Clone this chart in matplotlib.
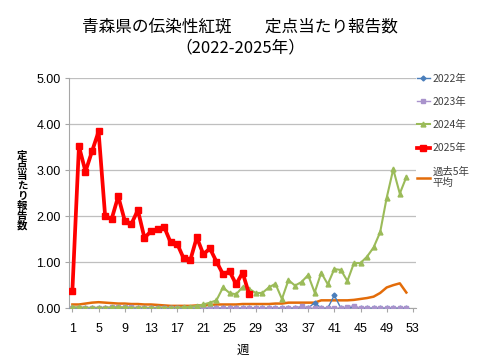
import matplotlib
matplotlib.use("Agg")
import matplotlib.pyplot as plt
import numpy as np

plt.rcParams['font.family'] = ['Noto Sans CJK JP', 'DejaVu Sans']

weeks = list(range(1, 53))

y2022 = [0]*35 + [0.03, 0, 0.12, 0, 0, 0.28, 0, 0, 0.03, 0, 0, 0, 0, 0, 0, 0, 0]
y2023 = [0.01, 0.01, 0.0, 0.0, 0.01, 0.01, 0.02, 0.02, 0.02, 0.02, 0.01, 0.01, 0.0, 0.0, 0.0, 0.0,
         0.0, 0.0, 0.0, 0.0, 0.0, 0.0, 0.0, 0.0, 0.0, 0.0, 0.0, 0.0, 0.0, 0.0, 0.0, 0.0,
         0.0, 0.0, 0.0, 0.04, 0.0, 0.0, 0.0, 0.0, 0.0, 0.0, 0.03, 0.05, 0.0, 0.0, 0.0, 0.0,
         0.0, 0.0, 0.0, 0.0]
y2024 = [0.02, 0.02, 0.01, 0.01, 0.01, 0.01, 0.02, 0.02, 0.02, 0.01, 0.01, 0.01, 0.01, 0.01,
         0.01, 0.01, 0.01, 0.02, 0.03, 0.05, 0.08, 0.12, 0.17, 0.45, 0.33, 0.30, 0.46, 0.42,
         0.33, 0.33, 0.45, 0.53, 0.20, 0.61, 0.49, 0.57, 0.72, 0.34, 0.77, 0.52, 0.85, 0.83,
         0.59, 0.98, 0.98, 1.12, 1.32, 1.65, 2.40, 3.02, 2.49, 2.85]
y2025 = [0.38, 3.52, 2.97, 3.41, 3.84, 2.00, 1.94, 2.43, 1.90, 1.83, 2.13, 1.53, 1.67, 1.71,
         1.77, 1.43, 1.40, 1.08, 1.04, 1.54, 1.17, 1.30, 1.01, 0.74, 0.80, 0.52, 0.77, 0.30]
avg5 = [0.08, 0.08, 0.10, 0.12, 0.13, 0.12, 0.11, 0.10, 0.10, 0.09, 0.09, 0.08, 0.08, 0.07,
        0.06, 0.05, 0.05, 0.05, 0.05, 0.06, 0.06, 0.07, 0.08, 0.08, 0.08, 0.08, 0.09, 0.09,
        0.09, 0.09, 0.09, 0.10, 0.10, 0.12, 0.12, 0.12, 0.12, 0.12, 0.17, 0.17, 0.17, 0.17,
        0.17, 0.18, 0.20, 0.22, 0.25, 0.33, 0.45, 0.50, 0.54, 0.34]

xticks = list(range(1, 54, 4))
yticks = [0, 1, 2, 3, 4, 5]

fig = plt.figure(figsize=(4.8, 3.6), dpi=100)
ax = fig.add_axes([0.144, 0.144, 0.723, 0.639])

ax.plot(weeks[:len(avg5)], avg5, color='#E36C09', lw=1.8, label='過去5年\n平均', zorder=2)
ax.plot(weeks[:len(y2022)], y2022, color='#4A7EBB', lw=1.0, marker='D', ms=2.5, label='2022年', zorder=3)
ax.plot(weeks[:len(y2023)], y2023, color='#A993CC', lw=1.0, marker='s', ms=3.5, label='2023年', zorder=3)
ax.plot(weeks[:len(y2024)], y2024, color='#9BBB59', lw=1.5, marker='^', ms=3.5, label='2024年', zorder=4)
ax.plot(weeks[:len(y2025)], y2025, color='#FF0000', lw=2.7, marker='s', ms=5, label='2025年', zorder=5)

ax.set_xlim(0.5, 53.5)
ax.set_ylim(0, 5)
ax.set_xticks(xticks)
ax.set_xticklabels([str(v) for v in xticks], fontsize=9, family=['Liberation Sans', 'DejaVu Sans'])
ax.set_yticks(yticks)
ax.set_yticklabels([f"{v:.2f}" for v in yticks], fontsize=9, family=['Liberation Sans', 'DejaVu Sans'])
ax.tick_params(axis='x', length=3, color='#A6A6A6', pad=8)
ax.tick_params(axis='y', length=3, color='#A6A6A6', pad=3)
ax.grid(axis='y', color='#BFBFBF', lw=0.9)
ax.set_axisbelow(True)
for s in ['top', 'right']:
    ax.spines[s].set_visible(False)
for s in ['left', 'bottom']:
    ax.spines[s].set_color('#A6A6A6')

ax.set_xlabel('週', fontsize=9, labelpad=6)
fig.text(0.046, 0.47, "\n".join("定点当たり報告数"), fontsize=7.5, ha='center', va='center',
         linespacing=1.0, fontweight='bold')

fig.text(0.5, 0.925, '青森県の伝染性紅斑　　定点当たり報告数', fontsize=12, ha='center', va='center')
fig.text(0.5, 0.868, '（2022-2025年）', fontsize=12, ha='center', va='center')

handles, labels = ax.get_legend_handles_labels()
order = [1, 2, 3, 4, 0]
leg = fig.legend([handles[i] for i in order], [labels[i] for i in order],
                 loc='upper left', bbox_to_anchor=(0.868, 0.795), frameon=False,
                 fontsize=7.5, handlelength=1.3, handletextpad=0.25, labelspacing=1.25,
                 borderpad=0, borderaxespad=0)
for t in leg.get_texts():
    t.set_color('#404040')

fig.savefig('out.png', dpi=100)
